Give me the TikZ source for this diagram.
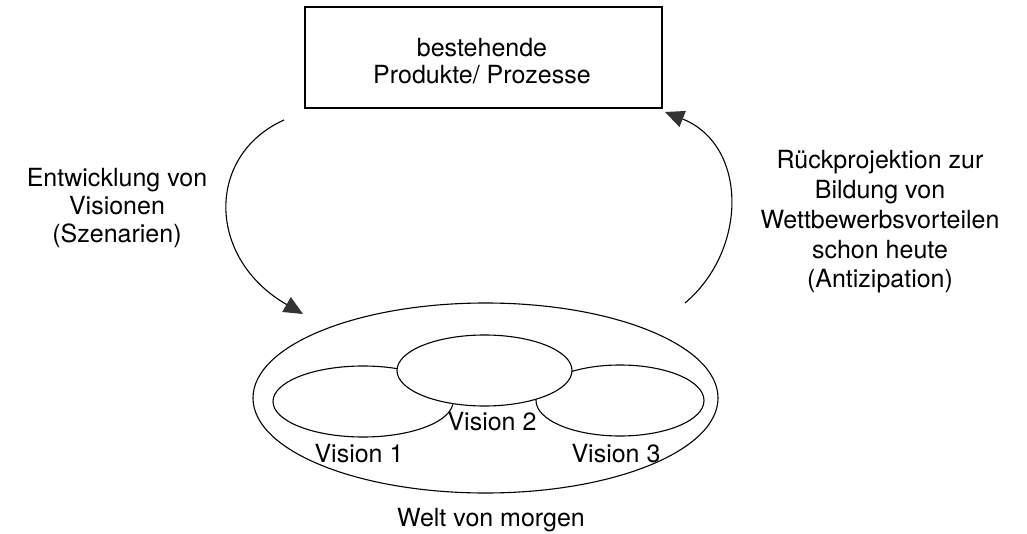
\documentclass[tikz,border=0pt]{standalone}
\usepackage{fontspec}
\setmainfont{TeX Gyre Heros}
\usetikzlibrary{arrows.meta}
\begin{document}
\begin{tikzpicture}[x=1pt,y=-1pt,
  lw/.style={line width=1.1pt},
  lbl/.style={font=\fontsize{25}{28}\selectfont, inner sep=0pt},
  ell/.style={lw, draw=black, fill=white},
  flow/.style={lw, -{Triangle[length=19pt,width=17pt,fill=black!80,color=black!80]}}
]
\useasboundingbox (0,0) rectangle (1027,534);
% box
\node[draw, lw, minimum width=357pt, minimum height=101pt, inner sep=0pt] (box) at (483.5,57.5) {};
\node[lbl, align=center, font=\fontsize{25}{27}\selectfont] (boxtxt) at (482,61) {bestehende\\Produkte/ Prozesse};
% ellipses
\draw[ell] (485.5,398) ellipse [x radius=232.5, y radius=95];
\draw[ell] (363,401.5) ellipse [x radius=90, y radius=35.5];
\draw[ell] (620,400.5) ellipse [x radius=84, y radius=35.5];
\draw[ell] (484.5,370.5) ellipse [x radius=87.5, y radius=35.5];
% labels
\node[lbl, anchor=base] (v1) at (359,462) {Vision 1};
\node[lbl, anchor=base] (v2) at (492,430) {Vision 2};
\node[lbl, anchor=base] (v3) at (616,462) {Vision 3};
\node[lbl, anchor=base] (welt) at (491,526) {Welt von morgen};
\node[lbl, align=center] (left) at (117,208) {Entwicklung von\\Visionen\\(Szenarien)};
\node[lbl, align=center, font=\fontsize{25}{29.7}\selectfont] (right) at (880,222) {Rückprojektion zur\\Bildung von\\Wettbewerbsvorteilen\\schon heute\\(Antizipation)};
% arrows
\coordinate (a1s) at (284,120);
\coordinate (a1e) at (303,314);
\coordinate (a2s) at (685,303);
\coordinate (a2e) at (665,112);
\draw[flow] (a1s) .. controls (206,155) and (206,258) .. (a1e);
\draw[flow] (a2s) .. controls (748,250) and (748,145) .. (a2e);
\end{tikzpicture}
\end{document}
